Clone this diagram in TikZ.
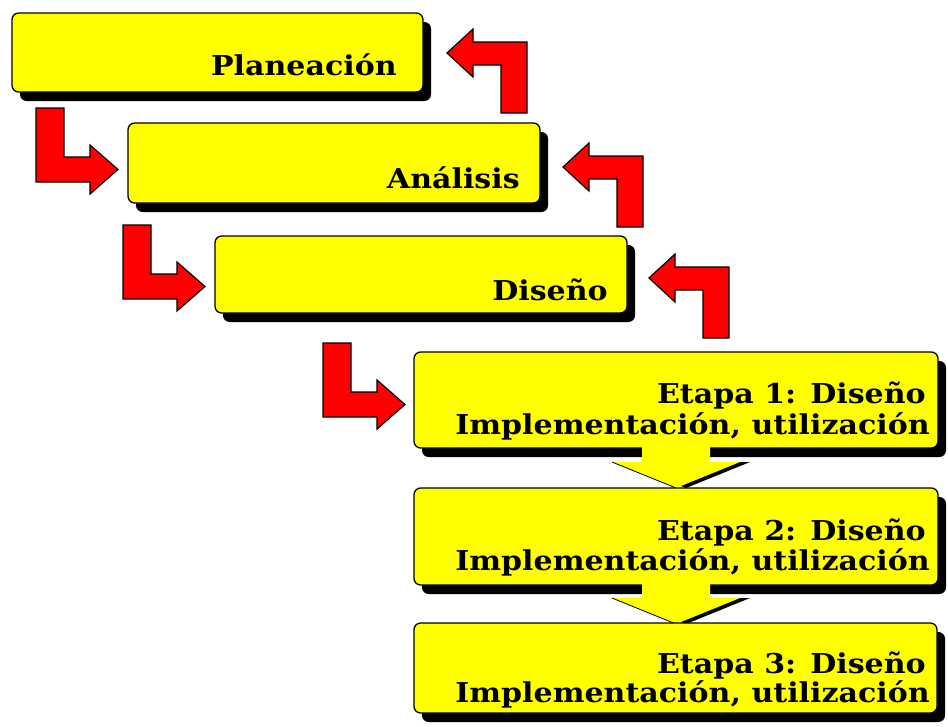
\documentclass[tikz,border=0pt]{standalone}
\usepackage{fontspec}
\setmainfont{DejaVu Serif}[FakeStretch=1.1]
\usetikzlibrary{shadows}
\definecolor{ybox}{RGB}{255,255,0}
\definecolor{rarrow}{RGB}{255,0,0}
\tikzset{
  stagebox/.style={draw=black, line width=1pt, fill=ybox, rounded corners=5pt,
    inner sep=0pt, outer sep=0pt, anchor=north west,
    drop shadow={shadow xshift=6pt, shadow yshift=-6.75pt, opacity=1, fill=black}},
  stagetext/.style={font=\bfseries\fontsize{20.5pt}{24pt}\selectfont, inner sep=0pt, anchor=base east},
  redarrow/.style={fill=rarrow, draw=black, line width=0.9pt, line join=miter},
  drarrow/.pic={\path[redarrow] (0,0) -- (28,0) -- (28,49) -- (54,49) -- (54,37) -- (82,61.5)
      -- (54,86) -- (54,74) -- (0,74) -- cycle;},
  ularrow/.pic={\path[redarrow] (0,0) -- (-26,0) -- (-26,-48) -- (-54,-48) -- (-54,-36)
      -- (-80,-60) -- (-54,-84) -- (-54,-71) -- (0,-71) -- cycle;},
  dnarrow/.pic={
    \fill[black] (-54,14) -- (74,14) -- (10,40) -- cycle;
    \fill[ybox] (-34,-3) -- (34,-3) -- (34,14) -- (64,14) -- (0,40) -- (-64,14) -- (-34,14) -- cycle;
    \draw[black, line width=0.6pt] (-64,14) -- (0,40);}
}
\begin{document}
\begin{tikzpicture}[x=0.75pt, y=-0.75pt]
\useasboundingbox[fill=white] (0,0) rectangle (948,726);

% boxes
\node[stagebox, minimum width=411*0.75pt, minimum height=79*0.75pt] (P) at (12,13) {};
\node[stagetext] (Pt) at (397,75) {Planeación};

\node[stagebox, minimum width=412*0.75pt, minimum height=80*0.75pt] (A) at (128,123) {};
\node[stagetext] (At) at (520,188) {Análisis};

\node[stagebox, minimum width=412*0.75pt, minimum height=77*0.75pt] (D) at (215,236) {};
\node[stagetext] (Dt) at (608,300) {Diseño};

\node[stagebox, minimum width=524*0.75pt, minimum height=96*0.75pt] (E1) at (414,352) {};
\node[stagetext] (E1a) at (926,403) {Etapa 1: Diseño};
\node[stagetext] (E1b) at (930,434) {Implementación, utilización};

\pic at (676,448) {dnarrow};

\node[stagebox, minimum width=524*0.75pt, minimum height=97*0.75pt] (E2) at (414,488) {};
\node[stagetext] (E2a) at (926,540) {Etapa 2: Diseño};
\node[stagetext] (E2b) at (930,570) {Implementación, utilización};

\pic at (676,584) {dnarrow};

\node[stagebox, minimum width=523*0.75pt, minimum height=90*0.75pt] (E3) at (414,623) {};
\node[stagetext] (E3a) at (926,673) {Etapa 3: Diseño};
\node[stagetext] (E3b) at (930,702) {Implementación, utilización};

% forward (down-right) arrows
\pic at (36,108) {drarrow};
\pic at (123,225) {drarrow};
\pic at (323,343) {drarrow};

% return (up-left) arrows
\pic at (527,113) {ularrow};
\pic at (643,227) {ularrow};
\pic at (729,338) {ularrow};
\end{tikzpicture}
\end{document}
